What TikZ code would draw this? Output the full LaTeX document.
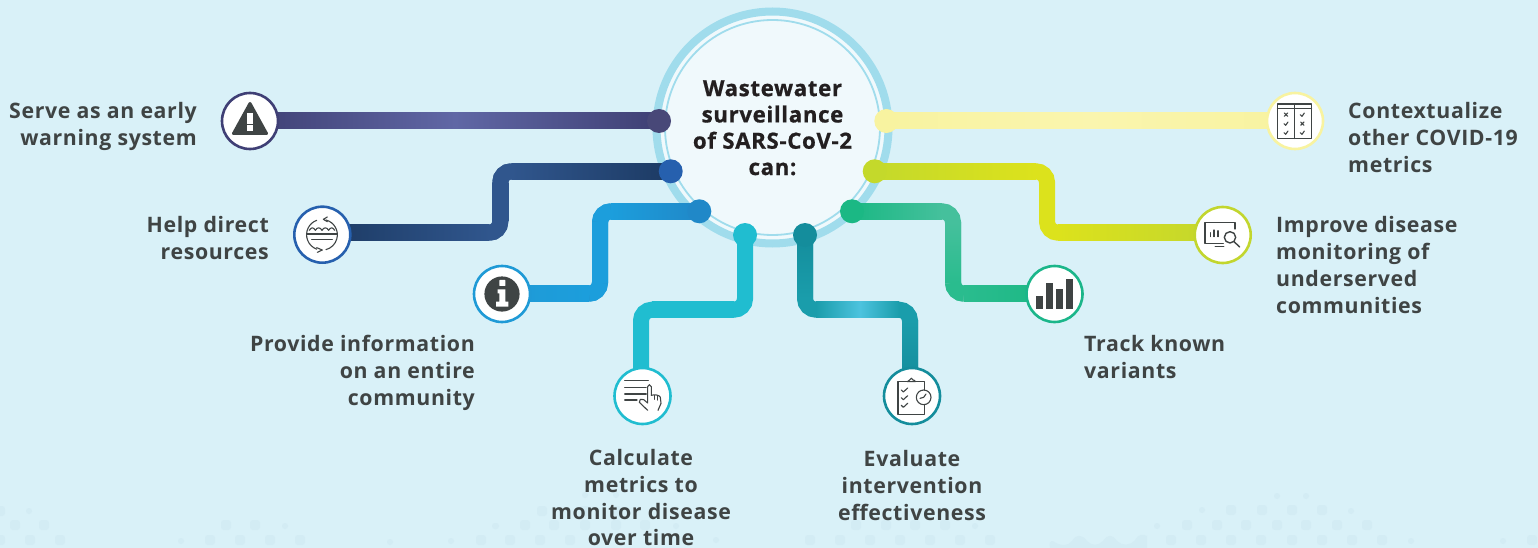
\documentclass[tikz,border=0pt]{standalone}
\usepackage{fontspec}
\setmainfont{Open Sans}[LetterSpace=3.0]
\usetikzlibrary{calc}
\definecolor{bg}{HTML}{D9F1F8}
\definecolor{ink}{HTML}{3F4444}
\definecolor{core}{HTML}{F0F9FC}
\definecolor{ring}{HTML}{A0DCEC}
\definecolor{speck}{HTML}{D3ECF4}
\definecolor{titleink}{HTML}{231F20}
\definecolor{pa}{HTML}{3F4074}\definecolor{pb}{HTML}{6067A5}\definecolor{pc}{HTML}{484878}\definecolor{pd}{HTML}{3F3F75}
\definecolor{na}{HTML}{1C3A63}\definecolor{nb}{HTML}{30568D}\definecolor{nc}{HTML}{3A669F}\definecolor{nd}{HTML}{2660AE}
\definecolor{sa}{HTML}{1F9AD6}\definecolor{sb}{HTML}{1C9EDC}\definecolor{sc}{HTML}{46B5E8}\definecolor{sd}{HTML}{2088C8}
\definecolor{ta}{HTML}{20BDD0}\definecolor{tb}{HTML}{62C9E0}
\definecolor{ua}{HTML}{148D9C}\definecolor{ub}{HTML}{12A8BA}\definecolor{uc}{HTML}{4CC3DE}\definecolor{ud}{HTML}{1A9DAB}
\definecolor{ga}{HTML}{1BB884}\definecolor{gb}{HTML}{45C09C}\definecolor{gc}{HTML}{60C8A8}\definecolor{gd}{HTML}{1BB68A}
\definecolor{ge}{HTML}{2ABC8E}
\definecolor{la}{HTML}{C4D92B}\definecolor{lb}{HTML}{DCE21C}\definecolor{lc}{HTML}{C2D62E}
\definecolor{ya}{HTML}{F8F3A0}\definecolor{yb}{HTML}{FAF5AE}
\tikzset{
  lab/.style={font=\fontsize{21.3}{27}\selectfont\bfseries,text=ink,inner sep=0pt},
  hub/.style={circle,draw=#1,line width=2.6pt,fill=white,minimum size=56pt,inner sep=0pt},
  knob/.style={circle,fill=#1,minimum size=24pt,inner sep=0pt},
  conn/.style={line width=16pt,rounded corners=11pt,color=#1},
  icon/.style={draw=ink,line width=1.1pt,line cap=round,line join=round},
  zoomed/.style 2 args={shift={(#1,#2)},x=0.33333pt,y=-0.33333pt},
}
% shaded straight pieces of a connector, left-to-right and top-to-bottom
\newcommand{\hs}[5]{\shade[left color=#3,middle color=#4,right color=#5] ($(#1)+(0,8)$) rectangle ($(#2)+(0,-8)$);}
\newcommand{\vs}[5]{\shade[top color=#3,middle color=#4,bottom color=#5] ($(#1)+(-8,0)$) rectangle ($(#2)+(8,0)$);}
\newcommand{\crn}[4]{\draw[conn=#4] (#1) -- (#2) -- (#3);}
\begin{document}
\begin{tikzpicture}[x=1pt,y=-1pt]
\useasboundingbox (0,0) rectangle (1538,548);
\fill[bg] (0,0) rectangle (1538,548);
% background specks
\foreach \x/\y in {15/525,44/525,226/525,255/525,
  0/540,30/540,60/540,210/540,240/540,270/540,300/540,481/540,510/540,540/540,570/540,
  810/540,840/540,870/540,900/540,930/540,960/540,990/540,
  1171/540,1201/540,1231/540,1261/540,1292/540,1322/540,1352/540,1382/540,1532/540,
  525/525,554/525,585/525,616/525,645/525,856/525,886/525,915/525,945/525,
  1187/525,1217/525,1246/525,1277/525,1306/525,1337/525,1367/525,
  1231/510,1262/510,1292/510,1322/510,0/511,542/511,585/511,616/511}
  \fill[speck,rounded corners=3pt] (\x-5,\y-5) rectangle (\x+5,\y+5);
\foreach \x/\y in {181/541,390/542,451/541,285/526,496/526,29/511,1157/526,1202/510,1351/511,1277/496,1306/496,585/495,616/495,1411/541,1503/541,495/526,676/526,975/526,716/540}
  \fill[speck] (\x,\y) circle[radius=3];
\fill[speck] (1050,548) .. controls (1048,538) and (1054,541) .. (1056,543) .. controls (1062,546) and (1068,546) .. (1072,541) .. controls (1076,534) and (1082,534) .. (1087,541) .. controls (1092,546) and (1098,546) .. (1103,541) .. controls (1108,534) and (1112,534) .. (1117,541) .. controls (1122,546) and (1130,546) .. (1135,540) .. controls (1138,534) and (1143,534) .. (1147,536) -- (1147,548) -- cycle;
% centre
\node[circle,draw=ring,line width=8pt,fill=core,minimum size=232pt,inner sep=0pt] (disc) at (772.5,127.5) {};
\node[circle,draw=ring,line width=1.8pt,minimum size=215pt,inner sep=0pt] (inner) at (772.5,127.5) {};
\node[inner sep=0pt,anchor=north,align=center,text=titleink,font=\fontsize{22.2}{26.3}\selectfont\bfseries] (title) at (772.5,77.5)
  {\addfontfeature{FakeBold=0.8}\strut Wastewater\\\addfontfeature{FakeBold=0.8}surveillance\\\addfontfeature{FakeBold=0.8}of SARS-CoV-2\\\addfontfeature{FakeBold=0.8}can:};
% end points
\coordinate (k1) at (659,121);
\coordinate (k2) at (670.7,171.3);
\coordinate (k3) at (699.3,211.3);
\coordinate (k4) at (745,235);
\coordinate (k5) at (805,235);
\coordinate (k6) at (852,211.3);
\coordinate (k7) at (874.7,171.3);
\coordinate (k8) at (886.3,121);
\coordinate (h1) at (250,121);
\coordinate (h2) at (322.3,234.7);
\coordinate (h3) at (502,294);
\coordinate (h4) at (642.5,396);
\coordinate (h5) at (912,396);
\coordinate (h6) at (1054.5,294);
\coordinate (h7) at (1222.7,235);
\coordinate (h8) at (1295,121);
% connector 1
\coordinate (m1) at (455,121);
\draw[conn=pa] (h1) -- (k1);
\hs{h1}{m1}{pa}{pa!50!pb}{pb}
\hs{m1}{k1}{pb}{pb!50!pa}{pa}
% connector 2
\coordinate (b2) at (500.3,232.7);\coordinate (c2) at (500.3,171.3);
\coordinate (a2) at (h2 |- b2);
\draw[conn=nb] (a2) -- (b2) -- (c2) -- (k2);
\hs{a2}{$(b2)+(-11,0)$}{na}{na!50!nb}{nb}
\crn{$(b2)+(-11,0)$}{b2}{$(b2)+(0,-11)$}{nb}
\vs{$(c2)+(0,11)$}{$(b2)+(0,-11)$}{nb}{nc}{nb}
\crn{$(c2)+(0,11)$}{c2}{$(c2)+(11,0)$}{nb}
\hs{$(c2)+(11,0)$}{k2}{nb}{nb!50!na}{na}
% connector 3
\coordinate (b3) at (600,293.7);\coordinate (c3) at (600,211.3);
\coordinate (a3) at (h3 |- b3);
\draw[conn=sa] (a3) -- (b3) -- (c3) -- (k3);
\hs{a3}{$(b3)+(-11,0)$}{sa}{sa}{sb}
\crn{$(b3)+(-11,0)$}{b3}{$(b3)+(0,-11)$}{sb}
\vs{$(c3)+(0,11)$}{$(b3)+(0,-11)$}{sb}{sc}{sb}
\crn{$(c3)+(0,11)$}{c3}{$(c3)+(11,0)$}{sb}
\hs{$(c3)+(11,0)$}{k3}{sb}{sa}{sd}
% connector 4
\coordinate (a4) at (745,309.7);\coordinate (b4) at (641,309.7);\coordinate (c4) at (641,380);
\draw[conn=ta] (k4) -- (a4) -- (b4) -- (c4);
\hs{$(b4)+(11,0)$}{$(a4)+(-11,0)$}{ta}{tb}{ta}
% connector 5
\coordinate (a5) at (805,309.7);\coordinate (b5) at (910,309.7);\coordinate (c5) at (910,380);
\draw[conn=ud] (k5) -- (a5) -- (b5) -- (c5);
\vs{k5}{$(a5)+(0,-11)$}{ua}{ua}{ud}
\coordinate (d5) at (860,309.7);
\hs{$(a5)+(11,0)$}{d5}{ud}{ub}{uc}
\hs{d5}{$(b5)+(-11,0)$}{uc}{ub}{ud}
\vs{$(b5)+(0,11)$}{c5}{ud}{ua}{ua}
% connector 6
\coordinate (a6) at (953,211.3);\coordinate (b6) at (953,293.7);\coordinate (c6) at (h6 |- b6);
\draw[conn=gb] (k6) -- (a6) -- (b6) -- (c6);
\hs{k6}{$(a6)+(-11,0)$}{ga}{ga}{gb}
\vs{$(a6)+(0,11)$}{$(b6)+(0,-11)$}{gb}{gc}{ge}
\crn{$(b6)+(0,-11)$}{b6}{$(b6)+(11,0)$}{ge}
\hs{$(b6)+(11,0)$}{c6}{ge}{ga}{ga}
% connector 7
\coordinate (a7) at (1047,171.3);\coordinate (b7) at (1047,232.7);\coordinate (c7) at (h7 |- b7);
\draw[conn=lb] (k7) -- (a7) -- (b7) -- (c7);
\hs{k7}{$(a7)+(-11,0)$}{la}{la!50!lb}{lb}
\hs{$(b7)+(11,0)$}{c7}{lb}{lb!50!lc}{lc}
% connector 8
\coordinate (m8) at (1090,121);
\draw[conn=ya] (k8) -- (h8);
\hs{k8}{m8}{ya}{ya!50!yb}{yb}
\hs{m8}{h8}{yb}{ya!50!yb}{ya}
% knobs
\node[knob=pc] (n1) at (k1) {};
\node[knob=nd] (n2) at (k2) {};
\node[knob=sd] (n3) at (k3) {};
\node[knob=ta] (n4) at (k4) {};
\node[knob=ua] (n5) at (k5) {};
\node[knob=ga] (n6) at (k6) {};
\node[knob=la] (n7) at (k7) {};
\node[knob=ya] (n8) at (k8) {};
% hubs
\node[hub=pd] (i1) at (h1) {};
\node[hub=nd] (i2) at (h2) {};
\node[hub=sa] (i3) at (h3) {};
\node[hub=ta] (i4) at (h4) {};
\node[hub=ua] (i5) at (h5) {};
\node[hub=gd] (i6) at (h6) {};
\node[hub=lc] (i7) at (h7) {};
\node[hub=ya] (i8) at (h8) {};
% icon 1: warning
\fill[ink,draw=ink,line width=3pt,line join=round] (250,103.5) -- (233.5,133.5) -- (266.5,133.5) -- cycle;
\fill[white] (247.2,112.7) rectangle (253.2,124.2);
\fill[white] (247.2,125.5) rectangle (253.2,130.7);
% icon 2: water
\begin{scope}[zoomed={200}{80}]
\draw[icon] (378,420) arc[start angle=-75,end angle=75,radius=46];
\draw[icon] (350,421) arc[start angle=-110,end angle=-250,radius=46];
\draw[icon] (382,411) -- (370,418) -- (382,425);
\draw[icon] (350,503) -- (367,510) -- (352,517);
\draw[icon] (328,451) .. controls (334,441) and (340,441) .. (346,451) .. controls (352,441) and (360,441) .. (366,451) .. controls (372,441) and (380,441) .. (386,451) .. controls (392,441) and (398,441) .. (404,451);
\draw[icon] (322,462) -- (410,462);
\draw[icon] (335,478) -- (397,478);
\end{scope}
% icon 3: information
\fill[ink] (h3) circle[radius=17.6];
\begin{scope}[zoomed={200}{80}]
\fill[white,rounded corners=0.5pt] (898,600) rectangle (916,618);
\fill[white] (893,628) -- (916,628) -- (916,665) -- (925,665) -- (925,680) -- (888,680) -- (888,665) -- (898,665) -- (898,640) -- (893,640) -- cycle;
\end{scope}
% icon 4: list and hand
\begin{scope}[zoomed={612}{366}]
\draw[icon] (38,44) -- (109,44);
\draw[icon] (38,65) -- (105,65);
\draw[icon] (38,84) -- (105,84);
\draw[icon] (38,102) -- (75,102);
\fill[white] (80,94) -- (104,106) -- (104,60) -- (120,52) -- (122,85) -- (146,90) -- (150,112) -- (140,136) -- (108,134) -- (78,110) -- cycle;
\draw[icon] (107,133) -- (82,109) -- (85,100) -- (95,101) -- (107,111) -- (107,62) -- (112,56) -- (118,62) -- (118,88);
\draw[icon] (118,88) .. controls (128,84) and (144,88) .. (145,94) -- (147,112) -- (138,133);
\draw[icon] (127,88) -- (127,100);
\draw[icon] (136,90) -- (136,102);
\end{scope}
% icon 5: clipboard
\begin{scope}[zoomed={882}{366}]
\draw[icon] (127,72) -- (127,47) -- (100,47);
\draw[icon] (76,47) -- (48,47) -- (48,145) -- (127,145) -- (127,116);
\draw[icon] (76,47) .. controls (78,42) and (82,43) .. (83,42) .. controls (84,35) and (92,35) .. (93,42) .. controls (96,43) and (100,43) .. (100,47) -- cycle;
\draw[icon] (125,94) circle[radius=22];
\draw[icon] (114,97) -- (125,94) -- (132,84);
\foreach \y in {72,95,118}
  \draw[icon] (58,\y) -- (64,\y+6) -- (77,\y-6);
\end{scope}
% icon 6: bars
\begin{scope}[zoomed={1020}{80}]
\fill[ink] (49,647) rectangle (69,686);
\fill[ink] (79,608) rectangle (99,686);
\fill[ink] (108,628) rectangle (128,686);
\fill[ink] (138,598) rectangle (158,686);
\end{scope}
% icon 7: monitor and lens
\begin{scope}[zoomed={1020}{80}]
\draw[icon] (645,447) -- (645,428) -- (555,428) -- (555,490) -- (610,490);
\draw[icon,line width=1.6pt] (586,500) -- (611,500);
\draw[icon] (572,458) -- (572,470);
\draw[icon] (582,450) -- (582,470);
\draw[icon] (594,452) -- (594,470);
\draw[icon,line width=1.4pt] (630,472) circle[radius=17];
\draw[icon,line width=1.4pt] (642,485) -- (659,501);
\end{scope}
% icon 8: table
\begin{scope}[zoomed={1260}{88}]
\draw[icon,line cap=butt] (52,48) rectangle (155,152);
\draw[icon] (52,62) -- (155,62);
\draw[icon] (103,48) -- (103,152);
\foreach \x/\y in {78/80,127/107}{
  \draw[icon] (\x-5,\y-5) -- (\x+5,\y+5);
  \draw[icon] (\x-5,\y+5) -- (\x+5,\y-5);}
\foreach \x/\y in {78/107,78/134,127/80,127/134}
  \draw[icon] (\x-6,\y) -- (\x-1,\y+5) -- (\x+6,\y-5);
\end{scope}
% labels
\node[lab,align=right,anchor=north east] (t1) at (197,99.5) {\strut Serve as an early\\warning system};
\node[lab,align=right,anchor=north east] (t2) at (269,213) {\strut Help direct\\resources};
\node[lab,align=right,anchor=north east] (t3) at (475,332) {\strut Provide information\\on an entire\\community};
\node[lab,align=center,anchor=north,font=\fontsize{21.3}{26.7}\selectfont\bfseries] (t4) at (641,447) {\strut Calculate\\metrics to\\monitor disease\\over time};
\node[lab,align=center,anchor=north] (t5) at (912,447) {\strut Evaluate\\intervention\\effectiveness};
\node[lab,align=left,anchor=north west] (t6) at (1084,332) {\strut Track known\\variants};
\node[lab,align=left,anchor=north west] (t7) at (1276,213) {\strut Improve disease\\monitoring of\\underserved\\communities};
\node[lab,align=left,anchor=north west] (t8) at (1348,99.5) {\strut Contextualize\\other COVID-19\\metrics};
\end{tikzpicture}
\end{document}
